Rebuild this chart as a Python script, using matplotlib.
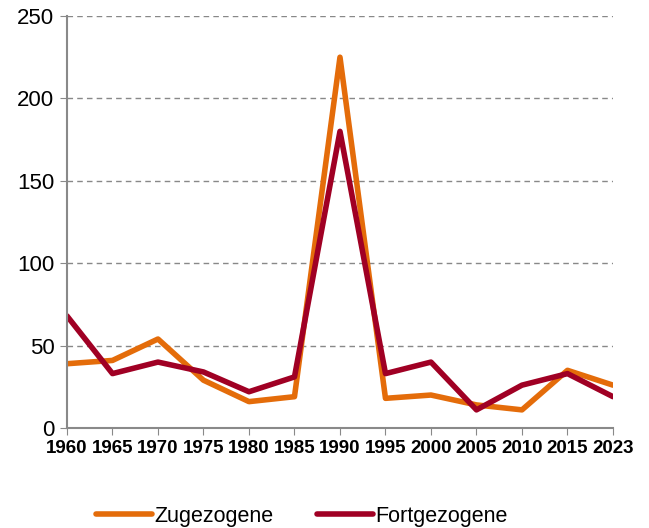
import matplotlib.pyplot as plt
from matplotlib import font_manager

years = ["1960", "1965", "1970", "1975", "1980", "1985", "1990",
         "1995", "2000", "2005", "2010", "2015", "2023"]
zugezogene = [39, 41, 54, 29, 16, 19, 225, 18, 20, 14, 11, 35, 26]
fortgezogene = [68, 33, 40, 34, 22, 31, 180, 33, 40, 11, 26, 33, 19]

plt.rcParams['font.family'] = ['Liberation Sans', 'DejaVu Sans']
names = {f.name for f in font_manager.fontManager.ttflist}
narrow = 'Liberation Sans Narrow' if 'Liberation Sans Narrow' in names else 'Liberation Sans'

fig = plt.figure(figsize=(6.49, 5.28), dpi=100)
ax = fig.add_axes([0.1032, 0.1894, 0.8413, 0.7803])

x = list(range(len(years)))
ax.plot(x, zugezogene, color='#E46C0A', lw=4, label='Zugezogene', solid_capstyle='round')
ax.plot(x, fortgezogene, color='#A00024', lw=4, label='Fortgezogene', solid_capstyle='round')

ax.set_xlim(0, len(years) - 1)
ax.set_ylim(0, 250)
ax.set_yticks(range(0, 251, 50))
ax.set_xticks(x)
ax.set_xticklabels(years, fontfamily=narrow, fontweight='bold', fontsize=13.5)
ax.tick_params(axis='y', labelsize=16, length=5, color='#898989', pad=4)
ax.tick_params(axis='x', length=5, color='#898989', pad=4)

ax.grid(axis='y', linestyle=(0, (4, 3)), color='#888888', lw=1)
ax.set_axisbelow(True)
for s in ['top', 'right']:
    ax.spines[s].set_visible(False)
for s in ['left', 'bottom']:
    ax.spines[s].set_color('#898989')
    ax.spines[s].set_linewidth(1.5)

fig.legend(loc='center', bbox_to_anchor=(0.465, 0.022), ncol=2, frameon=False,
           fontsize=15.5, handlelength=2.6, columnspacing=2.0, handletextpad=0.1)

plt.savefig("out.png", dpi=100)
